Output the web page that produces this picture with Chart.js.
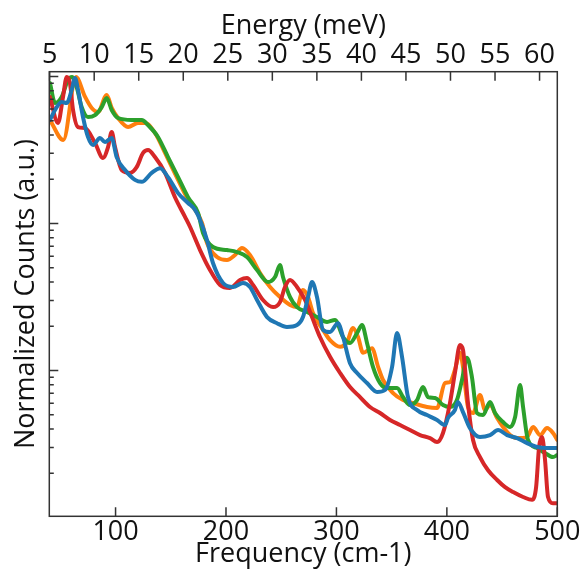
<!DOCTYPE html>
<html><head><meta charset="utf-8">
<script src="https://cdn.jsdelivr.net/npm/chart.js@4/dist/chart.umd.min.js"></script>
<style>html,body{margin:0;padding:0;background:#fff;}#c{display:block;}</style>
</head><body>
<canvas id="c" width="584" height="575"></canvas>
<script>
// ---- data (x: Frequency in cm-1, y: normalized counts) ----
const CM_PER_MEV = 8.0655;
const xTicksCm = [100, 200, 300, 400, 500];
const xTicksMeV = [5, 10, 15, 20, 25, 30, 35, 40, 45, 50, 55, 60];

const seriesOrange = [[40.6,0.506],[52.7,0.370],[64.2,0.992],[72.3,0.729],[78.4,0.611],[84.1,0.574],[92.0,0.748],[96.5,0.611],[102.2,0.522],[111.3,0.453],[120.3,0.483],[126.7,0.483],[135.7,0.413],[144.8,0.302],[156.6,0.198],[165.6,0.145],[178.3,0.101],[182.8,0.0737],[191.9,0.0592],[200.9,0.0565],[208.2,0.0611],[214.5,0.0681],[221.7,0.0611],[230.8,0.0461],[239.9,0.0370],[248.9,0.0316],[258.0,0.0279],[264.3,0.0270],[269.7,0.0353],[274.3,0.0316],[278.8,0.0246],[287.9,0.0189],[294.2,0.0161],[303.3,0.0145],[309.6,0.0156],[315.0,0.0195],[319.6,0.0169],[324.1,0.0132],[332.2,0.0142],[337.7,0.0106],[342.2,0.00862],[351.3,0.00703],[360.3,0.00630],[369.3,0.00601],[382.0,0.00565],[391.1,0.00556],[398.3,0.00822],[402.8,0.00835],[407.3,0.0101],[411.9,0.0132],[414.6,0.0106],[419.1,0.00565],[423.7,0.00514],[430.0,0.00681],[434.6,0.00539],[439.1,0.00583],[445.5,0.00475],[450.9,0.00413],[457.3,0.00364],[463.6,0.00347],[472.6,0.00353],[478.1,0.00413],[484.4,0.00364],[490.7,0.00406],[496.1,0.00376],[500,0.00337]];

const seriesGreen = [[40.6,0.903],[45.2,0.660],[51.2,0.725],[56.9,0.947],[60.6,0.992],[64.8,0.848],[69.3,0.620],[75.0,0.530],[81.4,0.547],[87.5,0.620],[92.0,0.714],[96.5,0.592],[102.2,0.522],[114.6,0.506],[123.7,0.506],[129.4,0.468],[138.4,0.388],[147.5,0.283],[156.6,0.207],[165.6,0.151],[174.7,0.118],[179.2,0.0862],[188.2,0.0692],[200.9,0.0660],[210.0,0.0640],[219.0,0.0592],[228.1,0.0483],[238.1,0.0400],[244.4,0.0433],[248.9,0.0522],[251.6,0.0433],[258.0,0.0316],[264.3,0.0270],[273.4,0.0250],[282.4,0.0231],[291.5,0.0214],[298.7,0.0221],[306.0,0.0169],[312.3,0.0154],[318.7,0.0180],[323.2,0.0204],[327.7,0.0154],[333.1,0.0106],[339.5,0.00822],[345.8,0.00760],[354.9,0.00760],[360.3,0.00660],[366.6,0.00583],[373.0,0.00630],[378.4,0.00772],[382.9,0.00660],[389.3,0.00650],[396.5,0.00583],[402.8,0.00565],[409.1,0.00630],[413.7,0.00862],[418.2,0.0122],[422.7,0.00903],[427.3,0.00514],[432.7,0.00498],[439.1,0.00611],[443.6,0.00514],[450.9,0.00446],[457.3,0.00413],[461.8,0.00483],[466.3,0.00797],[469.0,0.00565],[473.5,0.00337],[481.7,0.00297],[488.9,0.00275],[496.1,0.00258],[500,0.00266]];

const seriesRed = [[40.6,0.725],[47.9,0.483],[52.4,0.725],[55.8,0.992],[58.7,0.903],[61.5,0.592],[66.0,0.453],[72.3,0.446],[81.4,0.353],[88.6,0.279],[93.2,0.331],[96.5,0.419],[99.5,0.331],[105.6,0.231],[113.1,0.221],[119.1,0.242],[124.9,0.302],[129.4,0.316],[135.7,0.283],[144.8,0.221],[153.8,0.151],[162.9,0.111],[167.5,0.0947],[176.5,0.0660],[185.5,0.0483],[194.6,0.0382],[203.6,0.0364],[212.7,0.0413],[219.0,0.0426],[224.5,0.0382],[233.5,0.0302],[242.6,0.0270],[248.9,0.0292],[253.4,0.0370],[258.0,0.0413],[264.3,0.0370],[271.6,0.0302],[277.9,0.0231],[285.1,0.0169],[294.2,0.0124],[303.3,0.00962],[312.3,0.00772],[321.4,0.00660],[330.4,0.00565],[339.5,0.00514],[348.5,0.00461],[357.6,0.00426],[366.6,0.00394],[375.7,0.00364],[384.7,0.00347],[391.1,0.00326],[396.5,0.00376],[402.8,0.00601],[407.3,0.00962],[411.9,0.0149],[414.6,0.0138],[419.1,0.00601],[423.7,0.00337],[430.0,0.00258],[437.3,0.00210],[445.5,0.00180],[452.7,0.00161],[460.0,0.00149],[469.0,0.00138],[477.2,0.00132],[480.8,0.00161],[483.5,0.00302],[486.2,0.00353],[488.9,0.00246],[491.6,0.00138],[496.1,0.00125],[500,0.00125]];

const seriesBlue = [[40.6,0.506],[45.2,0.592],[51.2,0.671],[55.8,0.660],[60.3,0.810],[63.3,0.977],[66.0,0.810],[70.5,0.530],[75.0,0.388],[79.6,0.342],[85.9,0.382],[90.4,0.358],[96.5,0.382],[101.0,0.283],[108.6,0.231],[117.6,0.198],[123.7,0.192],[132.7,0.221],[140.3,0.238],[147.5,0.207],[156.6,0.161],[165.6,0.138],[172.0,0.124],[176.5,0.106],[182.8,0.0772],[188.2,0.0539],[197.3,0.0394],[206.4,0.0370],[215.4,0.0394],[221.7,0.0370],[228.1,0.0302],[237.2,0.0231],[246.2,0.0210],[255.2,0.0198],[264.3,0.0204],[269.7,0.0231],[274.3,0.0316],[277.9,0.0400],[282.4,0.0316],[287.9,0.0189],[294.2,0.0183],[301.4,0.0210],[306.0,0.0169],[312.3,0.0112],[318.7,0.00962],[327.7,0.00822],[336.8,0.00714],[344.0,0.00737],[350.4,0.0106],[354.9,0.0180],[359.4,0.0124],[364.8,0.00660],[373.0,0.00539],[382.0,0.00498],[391.1,0.00461],[398.3,0.00426],[401.0,0.00475],[407.3,0.00539],[410.0,0.00611],[414.6,0.00522],[420.9,0.00406],[430.0,0.00353],[439.1,0.00364],[446.4,0.00394],[454.5,0.00364],[463.6,0.00347],[472.6,0.00321],[481.7,0.00302],[490.7,0.00297],[500,0.00297]];

// ---- chart ----
const FONT = '"Open Sans", "DejaVu Sans", sans-serif';
const TXT = '#111';
const toPts = s => s.map(([x, y]) => ({x, y}));
const ds = (label, data, color) => ({
  label, data: toPts(data), borderColor: color, backgroundColor: color,
  borderWidth: 4, pointRadius: 0, fill: false,
  cubicInterpolationMode: 'monotone', borderJoinStyle: 'round', borderCapStyle: 'round'
});

const Y_MIN = 0.00102, Y_MAX = 1.078;

const framePlugin = {
  id: 'frame',
  afterDatasetsDraw(chart) {
    const {ctx, chartArea: a, scales} = chart;
    ctx.save();
    ctx.strokeStyle = '#333';
    ctx.lineWidth = 1.5;
    ctx.strokeRect(a.left, a.top, a.right - a.left, a.bottom - a.top);
    ctx.beginPath();
    xTicksCm.forEach(v => { const p = scales.x.getPixelForValue(v); ctx.moveTo(p, a.bottom); ctx.lineTo(p, a.bottom - 9); });
    xTicksMeV.forEach(v => { const p = scales.x2.getPixelForValue(v); ctx.moveTo(p, a.top); ctx.lineTo(p, a.top + 9); });
    for (let e = -3; e <= 0; e++) {
      for (let k = 1; k <= 9; k++) {
        const v = k * Math.pow(10, e);
        if (v < Y_MIN || v > Y_MAX) continue;
        const p = scales.y.getPixelForValue(v);
        const len = k === 1 ? 9 : 4.5;
        ctx.moveTo(a.left, p); ctx.lineTo(a.left + len, p);
      }
    }
    ctx.stroke();
    ctx.restore();
  }
};

new Chart(document.getElementById('c'), {
  type: 'line',
  data: { datasets: [
    ds('blue', seriesBlue, '#1f77b4'),
    ds('red', seriesRed, '#d62728'),
    ds('green', seriesGreen, '#2ca02c'),
    ds('orange', seriesOrange, '#ff7f0e')
  ]},
  options: {
    responsive: false, animation: false, devicePixelRatio: 1,
    layout: { padding: { left: 0, right: 26.7, top: 0, bottom: 0 } },
    plugins: { legend: { display: false }, tooltip: { enabled: false } },
    scales: {
      x: {
        type: 'linear', position: 'bottom', min: 40, max: 500,
        afterBuildTicks: s => { s.ticks = xTicksCm.map(v => ({value: v})); },
        afterFit: s => { s.height = 58.7; },
        grid: { display: false, drawTicks: false },
        border: { display: false },
        ticks: { font: { family: FONT, size: 27 }, color: TXT, padding: 0, maxRotation: 0, autoSkip: false },
        title: { display: true, text: 'Frequency (cm-1)', color: TXT, font: { family: FONT, size: 27 }, padding: { top: 0, bottom: 4 } }
      },
      x2: {
        type: 'linear', position: 'top', min: 40 / CM_PER_MEV, max: 500 / CM_PER_MEV,
        afterBuildTicks: s => { s.ticks = xTicksMeV.map(v => ({value: v})); },
        afterFit: s => { s.height = 71.7; },
        grid: { display: false, drawTicks: false },
        border: { display: false },
        ticks: { font: { family: FONT, size: 27 }, color: TXT, padding: 0, maxRotation: 0, autoSkip: false },
        title: { display: true, text: 'Energy (meV)', color: TXT, font: { family: FONT, size: 27 }, padding: { top: 10, bottom: 0 } }
      },
      y: {
        type: 'logarithmic', position: 'left', min: Y_MIN, max: Y_MAX,
        afterFit: s => { s.width = 49.3; },
        grid: { display: false, drawTicks: false },
        border: { display: false },
        ticks: { display: false },
        title: { display: true, text: 'Normalized Counts (a.u.)', color: TXT, font: { family: FONT, size: 27 }, padding: { top: 10, bottom: 0 } }
      }
    }
  },
  plugins: [framePlugin]
});
</script>
</body></html>
